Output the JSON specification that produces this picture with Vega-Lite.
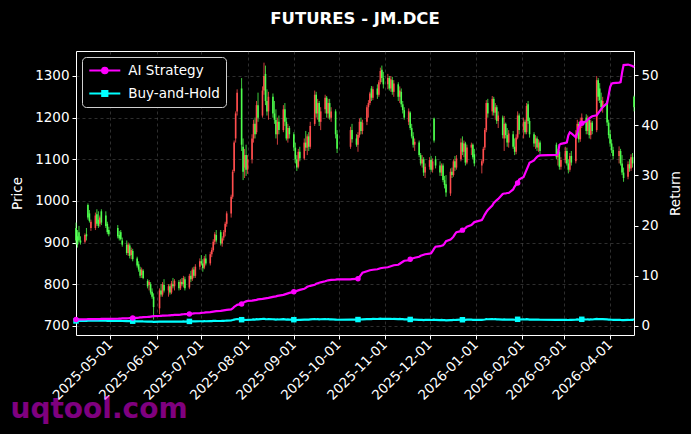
{
"$schema": "https://vega.github.io/schema/vega-lite/v6.json",
"width": 558, "height": 284,
"autosize": {"type": "none"},
"padding": {"left": 76, "top": 51, "right": 57, "bottom": 99},
"background": "#000000",
"title": {"text": "FUTURES - JM.DCE", "color": "#ffffff", "font": "DejaVu Sans", "fontSize": 16.5, "fontWeight": "bold", "anchor": "middle", "frame": "group", "baseline": "alphabetic", "offset": 11},
"datasets": {"px": [
{"d":"2025-04-08","o":935,"h":948,"l":895,"c":905,"ai":1.30,"bh":1.00},
{"d":"2025-04-09","o":915,"h":930,"l":888,"c":895,"ai":1.30,"bh":0.99},
{"d":"2025-04-10","o":925,"h":940,"l":900,"c":905,"ai":1.31,"bh":1.00},
{"d":"2025-04-11","o":905,"h":915,"l":895,"c":900,"ai":1.32,"bh":0.99},
{"d":"2025-04-14","o":902,"h":922,"l":898,"c":918,"ai":1.33,"bh":1.01},
{"d":"2025-04-15","o":920,"h":935,"l":905,"c":915,"ai":1.34,"bh":1.01},
{"d":"2025-04-16","o":990,"h":994,"l":955,"c":960,"ai":1.35,"bh":1.06},
{"d":"2025-04-17","o":970,"h":978,"l":948,"c":952,"ai":1.35,"bh":1.05},
{"d":"2025-04-18","o":935,"h":955,"l":928,"c":950,"ai":1.36,"bh":1.05},
{"d":"2025-04-21","o":935,"h":972,"l":930,"c":965,"ai":1.37,"bh":1.07},
{"d":"2025-04-22","o":968,"h":980,"l":940,"c":945,"ai":1.38,"bh":1.04},
{"d":"2025-04-23","o":955,"h":975,"l":935,"c":940,"ai":1.38,"bh":1.04},
{"d":"2025-04-24","o":945,"h":965,"l":938,"c":960,"ai":1.39,"bh":1.06},
{"d":"2025-04-25","o":975,"h":980,"l":942,"c":948,"ai":1.40,"bh":1.05},
{"d":"2025-04-28","o":965,"h":975,"l":935,"c":940,"ai":1.41,"bh":1.04},
{"d":"2025-04-29","o":945,"h":950,"l":920,"c":925,"ai":1.42,"bh":1.02},
{"d":"2025-04-30","o":930,"h":938,"l":915,"c":920,"ai":1.43,"bh":1.02},
{"d":"2025-05-06","o":935,"h":942,"l":910,"c":915,"ai":1.44,"bh":1.01},
{"d":"2025-05-07","o":918,"h":928,"l":905,"c":910,"ai":1.46,"bh":1.01},
{"d":"2025-05-08","o":925,"h":930,"l":905,"c":908,"ai":1.48,"bh":1.00},
{"d":"2025-05-09","o":905,"h":912,"l":890,"c":895,"ai":1.50,"bh":0.99},
{"d":"2025-05-12","o":895,"h":905,"l":870,"c":875,"ai":1.52,"bh":0.97},
{"d":"2025-05-13","o":875,"h":900,"l":868,"c":895,"ai":1.54,"bh":0.99},
{"d":"2025-05-14","o":893,"h":898,"l":862,"c":868,"ai":1.56,"bh":0.96},
{"d":"2025-05-15","o":870,"h":888,"l":860,"c":882,"ai":1.58,"bh":0.97},
{"d":"2025-05-16","o":880,"h":885,"l":855,"c":860,"ai":1.60,"bh":0.95},
{"d":"2025-05-19","o":862,"h":866,"l":840,"c":845,"ai":1.63,"bh":0.93},
{"d":"2025-05-20","o":848,"h":855,"l":830,"c":835,"ai":1.66,"bh":0.92},
{"d":"2025-05-21","o":835,"h":842,"l":815,"c":820,"ai":1.70,"bh":0.91},
{"d":"2025-05-22","o":822,"h":840,"l":815,"c":835,"ai":1.73,"bh":0.92},
{"d":"2025-05-23","o":832,"h":836,"l":812,"c":815,"ai":1.76,"bh":0.90},
{"d":"2025-05-26","o":808,"h":812,"l":790,"c":795,"ai":1.80,"bh":0.88},
{"d":"2025-05-27","o":798,"h":810,"l":785,"c":805,"ai":1.83,"bh":0.89},
{"d":"2025-05-28","o":800,"h":805,"l":775,"c":780,"ai":1.87,"bh":0.86},
{"d":"2025-05-29","o":782,"h":790,"l":765,"c":770,"ai":1.91,"bh":0.85},
{"d":"2025-05-30","o":770,"h":778,"l":715,"c":745,"ai":1.95,"bh":0.82},
{"d":"2025-06-03","o":742,"h":790,"l":728,"c":785,"ai":2.00,"bh":0.87},
{"d":"2025-06-04","o":785,"h":800,"l":770,"c":775,"ai":2.02,"bh":0.86},
{"d":"2025-06-05","o":775,"h":805,"l":770,"c":800,"ai":2.05,"bh":0.88},
{"d":"2025-06-06","o":798,"h":812,"l":780,"c":785,"ai":2.08,"bh":0.87},
{"d":"2025-06-09","o":785,"h":800,"l":770,"c":795,"ai":2.10,"bh":0.88},
{"d":"2025-06-10","o":795,"h":800,"l":775,"c":780,"ai":2.12,"bh":0.86},
{"d":"2025-06-11","o":780,"h":808,"l":776,"c":802,"ai":2.15,"bh":0.89},
{"d":"2025-06-12","o":800,"h":815,"l":790,"c":795,"ai":2.18,"bh":0.88},
{"d":"2025-06-13","o":795,"h":812,"l":785,"c":808,"ai":2.20,"bh":0.89},
{"d":"2025-06-16","o":805,"h":810,"l":785,"c":790,"ai":2.23,"bh":0.87},
{"d":"2025-06-17","o":790,"h":812,"l":786,"c":806,"ai":2.26,"bh":0.89},
{"d":"2025-06-18","o":805,"h":815,"l":795,"c":800,"ai":2.30,"bh":0.88},
{"d":"2025-06-19","o":800,"h":820,"l":792,"c":815,"ai":2.33,"bh":0.90},
{"d":"2025-06-20","o":812,"h":818,"l":785,"c":790,"ai":2.36,"bh":0.87},
{"d":"2025-06-23","o":792,"h":825,"l":788,"c":820,"ai":2.40,"bh":0.91},
{"d":"2025-06-24","o":820,"h":832,"l":805,"c":812,"ai":2.43,"bh":0.90},
{"d":"2025-06-25","o":812,"h":840,"l":808,"c":835,"ai":2.46,"bh":0.92},
{"d":"2025-06-26","o":835,"h":842,"l":815,"c":820,"ai":2.50,"bh":0.91},
{"d":"2025-06-27","o":820,"h":848,"l":815,"c":842,"ai":2.53,"bh":0.93},
{"d":"2025-06-30","o":842,"h":862,"l":835,"c":855,"ai":2.57,"bh":0.94},
{"d":"2025-07-01","o":855,"h":870,"l":845,"c":850,"ai":2.60,"bh":0.94},
{"d":"2025-07-02","o":850,"h":860,"l":830,"c":838,"ai":2.63,"bh":0.93},
{"d":"2025-07-03","o":840,"h":868,"l":836,"c":862,"ai":2.66,"bh":0.95},
{"d":"2025-07-04","o":862,"h":872,"l":845,"c":850,"ai":2.70,"bh":0.94},
{"d":"2025-07-07","o":850,"h":878,"l":845,"c":872,"ai":2.75,"bh":0.96},
{"d":"2025-07-08","o":872,"h":888,"l":865,"c":882,"ai":2.80,"bh":0.97},
{"d":"2025-07-09","o":882,"h":908,"l":878,"c":902,"ai":2.85,"bh":1.00},
{"d":"2025-07-10","o":902,"h":925,"l":895,"c":920,"ai":2.90,"bh":1.02},
{"d":"2025-07-11","o":918,"h":930,"l":900,"c":905,"ai":2.95,"bh":1.00},
{"d":"2025-07-14","o":925,"h":930,"l":893,"c":898,"ai":3.00,"bh":0.99},
{"d":"2025-07-15","o":898,"h":915,"l":890,"c":910,"ai":3.05,"bh":1.01},
{"d":"2025-07-16","o":912,"h":930,"l":905,"c":925,"ai":3.10,"bh":1.02},
{"d":"2025-07-17","o":925,"h":950,"l":915,"c":945,"ai":3.15,"bh":1.04},
{"d":"2025-07-18","o":945,"h":975,"l":938,"c":970,"ai":3.20,"bh":1.07},
{"d":"2025-07-21","o":970,"h":1015,"l":960,"c":1010,"ai":3.30,"bh":1.12},
{"d":"2025-07-22","o":1010,"h":1075,"l":1005,"c":1070,"ai":3.50,"bh":1.18},
{"d":"2025-07-23","o":1072,"h":1145,"l":1068,"c":1140,"ai":3.80,"bh":1.26},
{"d":"2025-07-24","o":1150,"h":1215,"l":1140,"c":1210,"ai":4.00,"bh":1.34},
{"d":"2025-07-25","o":1215,"h":1268,"l":1205,"c":1260,"ai":4.20,"bh":1.39},
{"d":"2025-07-28","o":1270,"h":1295,"l":1120,"c":1135,"ai":4.40,"bh":1.25},
{"d":"2025-07-29","o":1130,"h":1150,"l":1050,"c":1070,"ai":4.60,"bh":1.18},
{"d":"2025-07-30","o":1080,"h":1125,"l":1055,"c":1110,"ai":4.80,"bh":1.23},
{"d":"2025-07-31","o":1110,"h":1135,"l":1060,"c":1075,"ai":4.90,"bh":1.19},
{"d":"2025-08-01","o":1075,"h":1110,"l":1065,"c":1100,"ai":5.00,"bh":1.22},
{"d":"2025-08-04","o":1100,"h":1160,"l":1090,"c":1150,"ai":5.05,"bh":1.27},
{"d":"2025-08-05","o":1150,"h":1195,"l":1140,"c":1185,"ai":5.10,"bh":1.31},
{"d":"2025-08-06","o":1185,"h":1200,"l":1150,"c":1160,"ai":5.15,"bh":1.28},
{"d":"2025-08-07","o":1165,"h":1240,"l":1160,"c":1230,"ai":5.20,"bh":1.36},
{"d":"2025-08-08","o":1230,"h":1260,"l":1190,"c":1200,"ai":5.30,"bh":1.33},
{"d":"2025-08-11","o":1205,"h":1275,"l":1200,"c":1265,"ai":5.40,"bh":1.40},
{"d":"2025-08-12","o":1265,"h":1332,"l":1255,"c":1300,"ai":5.45,"bh":1.44},
{"d":"2025-08-13","o":1305,"h":1325,"l":1230,"c":1240,"ai":5.50,"bh":1.37},
{"d":"2025-08-14","o":1240,"h":1268,"l":1205,"c":1215,"ai":5.55,"bh":1.34},
{"d":"2025-08-15","o":1215,"h":1262,"l":1195,"c":1250,"ai":5.60,"bh":1.38},
{"d":"2025-08-18","o":1250,"h":1258,"l":1200,"c":1210,"ai":5.80,"bh":1.34},
{"d":"2025-08-19","o":1210,"h":1240,"l":1185,"c":1195,"ai":5.85,"bh":1.32},
{"d":"2025-08-20","o":1195,"h":1220,"l":1150,"c":1160,"ai":5.90,"bh":1.28},
{"d":"2025-08-21","o":1160,"h":1200,"l":1135,"c":1190,"ai":6.00,"bh":1.31},
{"d":"2025-08-22","o":1190,"h":1205,"l":1160,"c":1170,"ai":6.05,"bh":1.29},
{"d":"2025-08-25","o":1170,"h":1230,"l":1165,"c":1220,"ai":6.20,"bh":1.35},
{"d":"2025-08-26","o":1220,"h":1235,"l":1180,"c":1190,"ai":6.30,"bh":1.31},
{"d":"2025-08-27","o":1190,"h":1200,"l":1145,"c":1150,"ai":6.40,"bh":1.27},
{"d":"2025-08-28","o":1150,"h":1185,"l":1140,"c":1175,"ai":6.50,"bh":1.30},
{"d":"2025-08-29","o":1175,"h":1180,"l":1150,"c":1160,"ai":6.60,"bh":1.28},
{"d":"2025-09-01","o":1160,"h":1165,"l":1120,"c":1128,"ai":6.80,"bh":1.25},
{"d":"2025-09-02","o":1128,"h":1140,"l":1090,"c":1100,"ai":6.90,"bh":1.22},
{"d":"2025-09-03","o":1100,"h":1110,"l":1072,"c":1080,"ai":7.00,"bh":1.19},
{"d":"2025-09-04","o":1082,"h":1125,"l":1078,"c":1118,"ai":7.10,"bh":1.24},
{"d":"2025-09-05","o":1118,"h":1130,"l":1095,"c":1102,"ai":7.20,"bh":1.22},
{"d":"2025-09-08","o":1102,"h":1150,"l":1098,"c":1140,"ai":7.40,"bh":1.26},
{"d":"2025-09-09","o":1140,"h":1168,"l":1120,"c":1128,"ai":7.60,"bh":1.25},
{"d":"2025-09-10","o":1128,"h":1160,"l":1110,"c":1155,"ai":7.80,"bh":1.28},
{"d":"2025-09-11","o":1155,"h":1165,"l":1120,"c":1130,"ai":7.90,"bh":1.25},
{"d":"2025-09-12","o":1130,"h":1190,"l":1125,"c":1180,"ai":8.00,"bh":1.30},
{"d":"2025-09-15","o":1185,"h":1265,"l":1180,"c":1255,"ai":8.20,"bh":1.39},
{"d":"2025-09-16","o":1255,"h":1262,"l":1200,"c":1210,"ai":8.40,"bh":1.34},
{"d":"2025-09-17","o":1210,"h":1245,"l":1195,"c":1235,"ai":8.50,"bh":1.36},
{"d":"2025-09-18","o":1235,"h":1240,"l":1180,"c":1190,"ai":8.60,"bh":1.31},
{"d":"2025-09-19","o":1190,"h":1225,"l":1170,"c":1215,"ai":8.70,"bh":1.34},
{"d":"2025-09-22","o":1220,"h":1255,"l":1210,"c":1248,"ai":8.90,"bh":1.38},
{"d":"2025-09-23","o":1248,"h":1252,"l":1200,"c":1210,"ai":9.00,"bh":1.34},
{"d":"2025-09-24","o":1210,"h":1245,"l":1198,"c":1235,"ai":9.10,"bh":1.36},
{"d":"2025-09-25","o":1235,"h":1245,"l":1195,"c":1200,"ai":9.15,"bh":1.33},
{"d":"2025-09-26","o":1200,"h":1225,"l":1190,"c":1215,"ai":9.20,"bh":1.34},
{"d":"2025-09-29","o":1215,"h":1220,"l":1150,"c":1160,"ai":9.25,"bh":1.28},
{"d":"2025-09-30","o":1160,"h":1170,"l":1115,"c":1125,"ai":9.30,"bh":1.24},
{"d":"2025-10-09","o":1130,"h":1178,"l":1125,"c":1170,"ai":9.30,"bh":1.29},
{"d":"2025-10-10","o":1170,"h":1185,"l":1140,"c":1148,"ai":9.35,"bh":1.27},
{"d":"2025-10-13","o":1150,"h":1160,"l":1130,"c":1135,"ai":9.40,"bh":1.25},
{"d":"2025-10-14","o":1135,"h":1165,"l":1118,"c":1158,"ai":9.40,"bh":1.28},
{"d":"2025-10-15","o":1158,"h":1198,"l":1152,"c":1190,"ai":9.80,"bh":1.31},
{"d":"2025-10-16","o":1190,"h":1200,"l":1160,"c":1168,"ai":10.2,"bh":1.29},
{"d":"2025-10-17","o":1168,"h":1195,"l":1160,"c":1188,"ai":10.6,"bh":1.31},
{"d":"2025-10-20","o":1190,"h":1230,"l":1182,"c":1225,"ai":10.9,"bh":1.35},
{"d":"2025-10-21","o":1225,"h":1242,"l":1200,"c":1235,"ai":11.0,"bh":1.36},
{"d":"2025-10-22","o":1235,"h":1262,"l":1230,"c":1258,"ai":11.1,"bh":1.39},
{"d":"2025-10-23","o":1270,"h":1276,"l":1240,"c":1248,"ai":11.15,"bh":1.38},
{"d":"2025-10-24","o":1248,"h":1275,"l":1242,"c":1268,"ai":11.2,"bh":1.40},
{"d":"2025-10-27","o":1270,"h":1280,"l":1245,"c":1255,"ai":11.3,"bh":1.39},
{"d":"2025-10-28","o":1255,"h":1290,"l":1250,"c":1285,"ai":11.4,"bh":1.42},
{"d":"2025-10-29","o":1285,"h":1320,"l":1280,"c":1312,"ai":11.5,"bh":1.45},
{"d":"2025-10-30","o":1315,"h":1325,"l":1285,"c":1295,"ai":11.55,"bh":1.43},
{"d":"2025-10-31","o":1295,"h":1310,"l":1270,"c":1280,"ai":11.6,"bh":1.41},
{"d":"2025-11-03","o":1280,"h":1305,"l":1268,"c":1295,"ai":11.7,"bh":1.43},
{"d":"2025-11-04","o":1295,"h":1300,"l":1265,"c":1270,"ai":11.8,"bh":1.40},
{"d":"2025-11-05","o":1270,"h":1300,"l":1262,"c":1292,"ai":11.9,"bh":1.43},
{"d":"2025-11-06","o":1290,"h":1298,"l":1255,"c":1262,"ai":12.0,"bh":1.39},
{"d":"2025-11-07","o":1262,"h":1290,"l":1250,"c":1282,"ai":12.1,"bh":1.42},
{"d":"2025-11-10","o":1280,"h":1285,"l":1240,"c":1250,"ai":12.2,"bh":1.38},
{"d":"2025-11-11","o":1250,"h":1275,"l":1235,"c":1265,"ai":12.4,"bh":1.40},
{"d":"2025-11-12","o":1262,"h":1270,"l":1225,"c":1232,"ai":12.6,"bh":1.36},
{"d":"2025-11-13","o":1232,"h":1240,"l":1210,"c":1218,"ai":12.8,"bh":1.35},
{"d":"2025-11-14","o":1218,"h":1225,"l":1195,"c":1200,"ai":13.0,"bh":1.33},
{"d":"2025-11-17","o":1190,"h":1222,"l":1182,"c":1215,"ai":13.1,"bh":1.34},
{"d":"2025-11-18","o":1212,"h":1215,"l":1170,"c":1175,"ai":13.3,"bh":1.30},
{"d":"2025-11-19","o":1175,"h":1185,"l":1150,"c":1155,"ai":13.4,"bh":1.28},
{"d":"2025-11-20","o":1155,"h":1165,"l":1128,"c":1135,"ai":13.5,"bh":1.25},
{"d":"2025-11-21","o":1135,"h":1150,"l":1120,"c":1142,"ai":13.6,"bh":1.26},
{"d":"2025-11-24","o":1140,"h":1145,"l":1105,"c":1110,"ai":13.8,"bh":1.23},
{"d":"2025-11-25","o":1110,"h":1115,"l":1085,"c":1090,"ai":14.0,"bh":1.20},
{"d":"2025-11-26","o":1090,"h":1110,"l":1080,"c":1100,"ai":14.1,"bh":1.22},
{"d":"2025-11-27","o":1100,"h":1105,"l":1060,"c":1068,"ai":14.2,"bh":1.18},
{"d":"2025-11-28","o":1068,"h":1090,"l":1055,"c":1082,"ai":14.3,"bh":1.20},
{"d":"2025-12-01","o":1082,"h":1105,"l":1075,"c":1098,"ai":14.4,"bh":1.21},
{"d":"2025-12-02","o":1098,"h":1108,"l":1070,"c":1075,"ai":14.5,"bh":1.19},
{"d":"2025-12-03","o":1075,"h":1102,"l":1068,"c":1095,"ai":14.9,"bh":1.21},
{"d":"2025-12-04","o":1198,"h":1200,"l":1140,"c":1145,"ai":15.4,"bh":1.27},
{"d":"2025-12-05","o":1100,"h":1108,"l":1078,"c":1085,"ai":15.8,"bh":1.20},
{"d":"2025-12-08","o":1085,"h":1095,"l":1060,"c":1068,"ai":15.9,"bh":1.18},
{"d":"2025-12-09","o":1068,"h":1090,"l":1060,"c":1085,"ai":16.0,"bh":1.20},
{"d":"2025-12-10","o":1085,"h":1090,"l":1045,"c":1050,"ai":16.1,"bh":1.16},
{"d":"2025-12-11","o":1050,"h":1060,"l":1030,"c":1038,"ai":16.4,"bh":1.15},
{"d":"2025-12-12","o":1040,"h":1062,"l":1010,"c":1020,"ai":16.9,"bh":1.13},
{"d":"2025-12-15","o":1018,"h":1078,"l":1012,"c":1070,"ai":17.2,"bh":1.18},
{"d":"2025-12-16","o":1070,"h":1080,"l":1055,"c":1062,"ai":17.5,"bh":1.17},
{"d":"2025-12-17","o":1062,"h":1100,"l":1058,"c":1095,"ai":17.8,"bh":1.21},
{"d":"2025-12-18","o":1095,"h":1108,"l":1072,"c":1080,"ai":18.3,"bh":1.19},
{"d":"2025-12-19","o":1080,"h":1110,"l":1075,"c":1102,"ai":18.7,"bh":1.22},
{"d":"2025-12-22","o":1100,"h":1150,"l":1095,"c":1140,"ai":18.9,"bh":1.26},
{"d":"2025-12-23","o":1140,"h":1155,"l":1110,"c":1118,"ai":19.1,"bh":1.24},
{"d":"2025-12-24","o":1118,"h":1145,"l":1105,"c":1138,"ai":19.3,"bh":1.26},
{"d":"2025-12-25","o":1138,"h":1142,"l":1085,"c":1092,"ai":19.5,"bh":1.21},
{"d":"2025-12-26","o":1092,"h":1135,"l":1088,"c":1128,"ai":19.8,"bh":1.25},
{"d":"2025-12-29","o":1128,"h":1140,"l":1110,"c":1135,"ai":20.1,"bh":1.25},
{"d":"2025-12-30","o":1135,"h":1138,"l":1100,"c":1105,"ai":20.4,"bh":1.22},
{"d":"2025-12-31","o":1112,"h":1125,"l":1083,"c":1090,"ai":20.7,"bh":1.20},
{"d":"2026-01-05","o":1085,"h":1100,"l":1066,"c":1095,"ai":21.1,"bh":1.21},
{"d":"2026-01-06","o":1095,"h":1130,"l":1090,"c":1125,"ai":21.6,"bh":1.24},
{"d":"2026-01-07","o":1128,"h":1175,"l":1122,"c":1170,"ai":22.2,"bh":1.29},
{"d":"2026-01-08","o":1170,"h":1242,"l":1165,"c":1235,"ai":22.7,"bh":1.36},
{"d":"2026-01-09","o":1235,"h":1245,"l":1200,"c":1210,"ai":23.1,"bh":1.34},
{"d":"2026-01-12","o":1215,"h":1252,"l":1205,"c":1245,"ai":24.0,"bh":1.38},
{"d":"2026-01-13","o":1245,"h":1250,"l":1205,"c":1212,"ai":24.5,"bh":1.34},
{"d":"2026-01-14","o":1212,"h":1235,"l":1195,"c":1225,"ai":24.8,"bh":1.35},
{"d":"2026-01-15","o":1225,"h":1230,"l":1185,"c":1192,"ai":25.1,"bh":1.32},
{"d":"2026-01-16","o":1192,"h":1215,"l":1175,"c":1205,"ai":25.3,"bh":1.33},
{"d":"2026-01-19","o":1200,"h":1205,"l":1150,"c":1158,"ai":26.3,"bh":1.28},
{"d":"2026-01-20","o":1150,"h":1204,"l":1120,"c":1185,"ai":26.4,"bh":1.31},
{"d":"2026-01-21","o":1185,"h":1188,"l":1150,"c":1158,"ai":26.4,"bh":1.28},
{"d":"2026-01-22","o":1158,"h":1175,"l":1130,"c":1140,"ai":26.5,"bh":1.26},
{"d":"2026-01-23","o":1140,"h":1170,"l":1128,"c":1162,"ai":26.5,"bh":1.28},
{"d":"2026-01-26","o":1160,"h":1168,"l":1125,"c":1130,"ai":27.2,"bh":1.25},
{"d":"2026-01-27","o":1130,"h":1150,"l":1110,"c":1118,"ai":27.8,"bh":1.24},
{"d":"2026-01-28","o":1118,"h":1160,"l":1112,"c":1152,"ai":28.2,"bh":1.27},
{"d":"2026-01-29","o":1152,"h":1215,"l":1148,"c":1205,"ai":28.5,"bh":1.33},
{"d":"2026-01-30","o":1205,"h":1210,"l":1160,"c":1170,"ai":29.2,"bh":1.29},
{"d":"2026-02-02","o":1170,"h":1200,"l":1150,"c":1190,"ai":29.7,"bh":1.31},
{"d":"2026-02-03","o":1190,"h":1195,"l":1160,"c":1165,"ai":30.4,"bh":1.29},
{"d":"2026-02-04","o":1165,"h":1235,"l":1160,"c":1228,"ai":31.1,"bh":1.36},
{"d":"2026-02-05","o":1232,"h":1240,"l":1185,"c":1192,"ai":31.8,"bh":1.32},
{"d":"2026-02-06","o":1192,"h":1200,"l":1152,"c":1160,"ai":32.5,"bh":1.28},
{"d":"2026-02-09","o":1160,"h":1165,"l":1130,"c":1138,"ai":33.0,"bh":1.26},
{"d":"2026-02-10","o":1138,"h":1158,"l":1125,"c":1150,"ai":33.4,"bh":1.27},
{"d":"2026-02-11","o":1150,"h":1155,"l":1120,"c":1128,"ai":33.7,"bh":1.25},
{"d":"2026-02-12","o":1128,"h":1148,"l":1118,"c":1140,"ai":33.9,"bh":1.26},
{"d":"2026-02-13","o":1140,"h":1145,"l":1112,"c":1120,"ai":34.0,"bh":1.24},
{"d":"2026-02-24","o":1135,"h":1140,"l":1100,"c":1105,"ai":34.1,"bh":1.22},
{"d":"2026-02-25","o":1105,"h":1125,"l":1085,"c":1118,"ai":34.3,"bh":1.24},
{"d":"2026-02-26","o":1118,"h":1122,"l":1075,"c":1082,"ai":36.1,"bh":1.20},
{"d":"2026-02-27","o":1082,"h":1105,"l":1075,"c":1098,"ai":36.3,"bh":1.21},
{"d":"2026-03-02","o":1098,"h":1130,"l":1090,"c":1120,"ai":36.5,"bh":1.24},
{"d":"2026-03-03","o":1120,"h":1128,"l":1085,"c":1090,"ai":36.6,"bh":1.20},
{"d":"2026-03-04","o":1090,"h":1100,"l":1066,"c":1075,"ai":38.0,"bh":1.19},
{"d":"2026-03-05","o":1075,"h":1115,"l":1070,"c":1108,"ai":38.6,"bh":1.22},
{"d":"2026-03-06","o":1108,"h":1120,"l":1085,"c":1092,"ai":38.4,"bh":1.21},
{"d":"2026-03-09","o":1095,"h":1170,"l":1090,"c":1160,"ai":37.6,"bh":1.28},
{"d":"2026-03-10","o":1160,"h":1195,"l":1150,"c":1185,"ai":38.5,"bh":1.31},
{"d":"2026-03-11","o":1185,"h":1190,"l":1140,"c":1148,"ai":39.6,"bh":1.27},
{"d":"2026-03-12","o":1148,"h":1200,"l":1142,"c":1190,"ai":40.0,"bh":1.31},
{"d":"2026-03-13","o":1190,"h":1210,"l":1175,"c":1200,"ai":40.4,"bh":1.33},
{"d":"2026-03-16","o":1200,"h":1208,"l":1160,"c":1168,"ai":40.8,"bh":1.29},
{"d":"2026-03-17","o":1168,"h":1205,"l":1160,"c":1195,"ai":41.1,"bh":1.32},
{"d":"2026-03-18","o":1195,"h":1200,"l":1150,"c":1158,"ai":41.4,"bh":1.28},
{"d":"2026-03-19","o":1158,"h":1195,"l":1148,"c":1188,"ai":41.6,"bh":1.31},
{"d":"2026-03-20","o":1188,"h":1192,"l":1160,"c":1168,"ai":41.8,"bh":1.29},
{"d":"2026-03-23","o":1170,"h":1300,"l":1165,"c":1290,"ai":42.0,"bh":1.43},
{"d":"2026-03-24","o":1290,"h":1295,"l":1240,"c":1250,"ai":42.4,"bh":1.38},
{"d":"2026-03-25","o":1270,"h":1283,"l":1235,"c":1242,"ai":42.8,"bh":1.37},
{"d":"2026-03-26","o":1242,"h":1260,"l":1215,"c":1225,"ai":43.2,"bh":1.35},
{"d":"2026-03-27","o":1225,"h":1250,"l":1212,"c":1240,"ai":43.6,"bh":1.37},
{"d":"2026-03-30","o":1240,"h":1242,"l":1180,"c":1188,"ai":44.4,"bh":1.31},
{"d":"2026-03-31","o":1188,"h":1195,"l":1150,"c":1158,"ai":46.0,"bh":1.28},
{"d":"2026-04-01","o":1160,"h":1170,"l":1130,"c":1138,"ai":47.6,"bh":1.26},
{"d":"2026-04-02","o":1138,"h":1148,"l":1115,"c":1122,"ai":48.3,"bh":1.24},
{"d":"2026-04-03","o":1122,"h":1130,"l":1100,"c":1108,"ai":48.4,"bh":1.22},
{"d":"2026-04-07","o":1108,"h":1131,"l":1090,"c":1120,"ai":48.5,"bh":1.24},
{"d":"2026-04-08","o":1120,"h":1125,"l":1085,"c":1090,"ai":48.6,"bh":1.20},
{"d":"2026-04-09","o":1090,"h":1110,"l":1062,"c":1068,"ai":50.5,"bh":1.18},
{"d":"2026-04-10","o":1068,"h":1080,"l":1046,"c":1055,"ai":52.0,"bh":1.17},
{"d":"2026-04-13","o":1058,"h":1095,"l":1052,"c":1088,"ai":52.1,"bh":1.20},
{"d":"2026-04-14","o":1088,"h":1100,"l":1070,"c":1078,"ai":52.0,"bh":1.19},
{"d":"2026-04-15","o":1078,"h":1112,"l":1072,"c":1105,"ai":51.9,"bh":1.22},
{"d":"2026-04-16","o":1105,"h":1115,"l":1080,"c":1090,"ai":51.8,"bh":1.20},
{"d":"2026-04-17","o":1250,"h":1253,"l":1215,"c":1225,"ai":51.6,"bh":1.35}
],
"series": [{"s": "AI Strategy"}, {"s": "Buy-and-Hold"}]},
"data": {"name": "px"},
"encoding": {
  "x": {"field": "d", "type": "temporal",
    "scale": {"type": "utc", "domain": [{"year": 2025, "month": 4, "date": 8, "utc": true}, {"year": 2026, "month": 4, "date": 17, "utc": true}]},
    "axis": {
      "values": [
        {"year": 2025, "month": 5, "date": 1, "utc": true},
        {"year": 2025, "month": 6, "date": 1, "utc": true},
        {"year": 2025, "month": 7, "date": 1, "utc": true},
        {"year": 2025, "month": 8, "date": 1, "utc": true},
        {"year": 2025, "month": 9, "date": 1, "utc": true},
        {"year": 2025, "month": 10, "date": 1, "utc": true},
        {"year": 2025, "month": 11, "date": 1, "utc": true},
        {"year": 2025, "month": 12, "date": 1, "utc": true},
        {"year": 2026, "month": 1, "date": 1, "utc": true},
        {"year": 2026, "month": 2, "date": 1, "utc": true},
        {"year": 2026, "month": 3, "date": 1, "utc": true},
        {"year": 2026, "month": 4, "date": 1, "utc": true}
      ],
      "format": "%Y-%m-%d",
      "labelAngle": -45, "labelAlign": "right", "labelBaseline": "middle",
      "labelOverlap": false, "labelFlush": false,
      "grid": true,
      "title": "uqtool.com",
      "titleColor": "rgba(255,0,255,0.5)", "titleFont": "DejaVu Sans", "titleFontSize": 28, "titleFontWeight": "bold",
      "titleAnchor": "start", "titleAlign": "left", "titleBaseline": "alphabetic", "titleAngle": 0,
      "titleX": -66, "titleY": 82
    }
  }
},
"layer": [
  {
    "encoding": {
      "color": {"condition": {"test": "datum.c >= datum.o", "value": "#ff4d4d"}, "value": "#4dff4d"}
    },
    "layer": [
      {
        "mark": {"type": "rule", "strokeWidth": 0.8},
        "encoding": {
          "y": {"field": "l", "type": "quantitative",
            "scale": {"domain": [678, 1360], "nice": false, "zero": false},
            "axis": {"title": "Price", "values": [700, 800, 900, 1000, 1100, 1200, 1300], "format": "d", "grid": true,
              "titleAngle": 270, "titleX": -59, "titleY": 142, "titleAlign": "center", "titleBaseline": "middle"}},
          "y2": {"field": "h"}
        }
      },
      {
        "mark": {"type": "rule", "strokeWidth": 1.6},
        "encoding": {
          "y": {"field": "o", "type": "quantitative",
            "scale": {"domain": [678, 1360], "nice": false, "zero": false},
            "axis": {"title": "Price", "values": [700, 800, 900, 1000, 1100, 1200, 1300], "format": "d", "grid": true,
              "titleAngle": 270, "titleX": -59, "titleY": 142, "titleAlign": "center", "titleBaseline": "middle"}},
          "y2": {"field": "c"}
        }
      }
    ]
  },
  {
    "layer": [
      {
        "mark": {"type": "line", "color": "#00ffff", "strokeWidth": 2.2},
        "encoding": {
          "y": {"field": "bh", "type": "quantitative",
            "scale": {"domain": [-1.8, 54.8], "nice": false, "zero": false},
            "axis": {"orient": "right", "title": "Return", "values": [0, 10, 20, 30, 40, 50], "grid": false,
              "titleAngle": 270, "titleX": 41, "titleY": 142, "titleAlign": "center", "titleBaseline": "middle"}}
        }
      },
      {
        "mark": {"type": "line", "color": "#ff00ff", "strokeWidth": 2.2},
        "encoding": {
          "y": {"field": "ai", "type": "quantitative",
            "scale": {"domain": [-1.8, 54.8], "nice": false, "zero": false},
            "axis": {"orient": "right", "title": "Return", "values": [0, 10, 20, 30, 40, 50], "grid": false,
              "titleAngle": 270, "titleX": 41, "titleY": 142, "titleAlign": "center", "titleBaseline": "middle"}}
        }
      },
      {
        "transform": [{"window": [{"op": "row_number", "as": "n"}]}, {"filter": "(datum.n - 1) % 25 == 0"}],
        "mark": {"type": "point", "shape": "square", "filled": true, "color": "#00ffff", "size": 30, "opacity": 1},
        "encoding": {
          "y": {"field": "bh", "type": "quantitative",
            "scale": {"domain": [-1.8, 54.8], "nice": false, "zero": false},
            "axis": {"orient": "right", "title": "Return", "values": [0, 10, 20, 30, 40, 50], "grid": false,
              "titleAngle": 270, "titleX": 41, "titleY": 142, "titleAlign": "center", "titleBaseline": "middle"}}
        }
      },
      {
        "transform": [{"window": [{"op": "row_number", "as": "n"}]}, {"filter": "(datum.n - 1) % 25 == 0"}],
        "mark": {"type": "point", "shape": "circle", "filled": true, "color": "#ff00ff", "size": 30, "opacity": 1},
        "encoding": {
          "y": {"field": "ai", "type": "quantitative",
            "scale": {"domain": [-1.8, 54.8], "nice": false, "zero": false},
            "axis": {"orient": "right", "title": "Return", "values": [0, 10, 20, 30, 40, 50], "grid": false,
              "titleAngle": 270, "titleX": 41, "titleY": 142, "titleAlign": "center", "titleBaseline": "middle"}}
        }
      },
      {
        "data": {"name": "series"},
        "transform": [{"filter": "false"}],
        "mark": {"type": "point", "filled": true, "opacity": 1, "strokeWidth": 2},
        "encoding": {
          "x": {"value": 0},
          "fill": {"field": "s", "type": "nominal", "scale": {"domain": ["AI Strategy", "Buy-and-Hold"], "range": ["#ff00ff", "#00ffff"]}, "legend": {"title": null}},
          "stroke": {"field": "s", "type": "nominal", "scale": {"domain": ["AI Strategy", "Buy-and-Hold"], "range": ["#ff00ff", "#00ffff"]}, "legend": {"title": null}},
          "shape": {"field": "s", "type": "nominal", "scale": {"domain": ["AI Strategy", "Buy-and-Hold"], "range": [
            "M-2.5,0L2.5,0M-0.45,0A0.45,0.45,0,1,0,0.45,0A0.45,0.45,0,1,0,-0.45,0Z",
            "M-2.5,0L2.5,0M-0.42,-0.42L0.42,-0.42L0.42,0.42L-0.42,0.42Z"]}, "legend": {"title": null}}
        }
      }
    ]
  }
],
"resolve": {"scale": {"y": "independent"}},
"config": {
  "view": {"stroke": "#ffffff", "strokeWidth": 1},
  "axis": {
    "domain": false, "labelColor": "#ffffff", "tickColor": "#ffffff", "tickSize": 4, "labelPadding": 3,
    "labelFont": "DejaVu Sans", "labelFontSize": 13.5,
    "titleFont": "DejaVu Sans", "titleFontSize": 13.5, "titleColor": "#ffffff", "titleFontWeight": "normal",
    "gridColor": "#808080", "gridDash": [3, 3], "gridWidth": 0.6, "gridOpacity": 0.6
  },
  "legend": {
    "orient": "top-left", "offset": 6, "padding": 6,
    "fillColor": "#000000", "strokeColor": "#d0d0d0", "cornerRadius": 4,
    "labelColor": "#ffffff", "labelFont": "DejaVu Sans", "labelFontSize": 13.5, "labelLimit": 300,
    "symbolSize": 154, "symbolStrokeWidth": 2, "symbolOffset": 9.3, "labelOffset": 16, "rowPadding": 8
  }
}
}
